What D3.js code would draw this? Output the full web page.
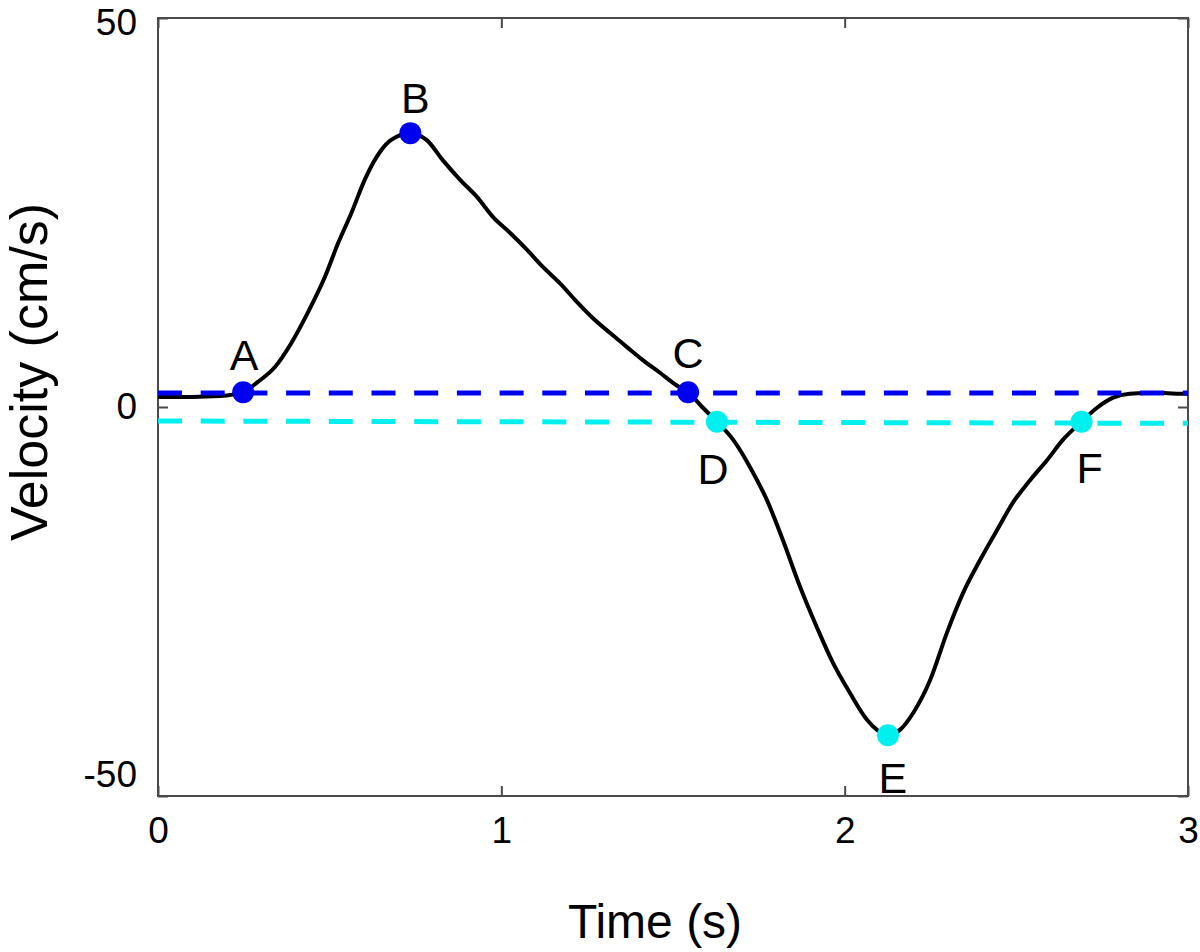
<!DOCTYPE html>
<html>
<head>
<meta charset="utf-8">
<script src="https://cdn.jsdelivr.net/npm/d3@7"></script>
<style>
  body { margin: 0; background: #fff; }
  text { font-family: "Liberation Sans", Arial, sans-serif; fill: #000; }
</style>
</head>
<body>
<svg id="chart" width="1200" height="952"></svg>
<script>
// velocity trace
const timeS = [0, 0.1, 0.18, 0.248, 0.29, 0.34, 0.388, 0.436, 0.486, 0.525, 0.563, 0.602, 0.65, 0.678,
  0.735, 0.783, 0.83, 0.88, 0.929, 0.976, 1.025, 1.075, 1.121, 1.171, 1.22, 1.267, 1.317, 1.366,
  1.413, 1.462, 1.51, 1.544, 1.585, 1.628, 1.675, 1.724, 1.774, 1.82, 1.87, 1.919, 1.966, 2.016,
  2.065, 2.094, 2.126, 2.161, 2.2, 2.249, 2.298, 2.345, 2.394, 2.444, 2.49, 2.54, 2.59, 2.636,
  2.69, 2.735, 2.782, 2.83, 2.88, 2.93, 2.977, 3.0]
const velocity = [1.3, 1.3, 1.4, 1.9, 3.2, 5.1, 8.2, 12.1, 16.7, 21.1, 24.9, 29.2, 33.0, 34.3,
  35.2, 34.3, 31.7, 29.2, 27.0, 24.4, 22.4, 20.2, 18.0, 15.9, 13.5, 11.4, 9.5, 7.7,
  6.0, 4.4, 2.8, 1.9, 0.0, -1.9, -4.2, -7.7, -12.0, -17.1, -23.1, -28.3, -32.9, -36.8,
  -40.2, -41.5, -42.2, -41.5, -39.3, -35.1, -29.0, -23.9, -19.7, -15.8, -12.3, -9.4, -6.8, -4.2,
  -1.9, -0.1, 1.2, 1.7, 1.8, 1.8, 1.7, 1.7]

// threshold lines (time, value at the two ends)
const upperThreshold = [[0, 1.8], [3, 1.8]]
const lowerThreshold = [[0, -1.8], [3, -2.1]]

// marked events
const eventNames = ["A", "B", "C", "D", "E", "F"]
const eventTimes = [0.248, 0.735, 1.544, 1.628, 2.126, 2.69]
const eventValues = [1.9, 35.2, 1.9, -1.9, -42.2, -1.9]
const eventGroup = ["upper", "upper", "upper", "lower", "lower", "lower"]

const xTicks = [0, 1, 2, 3]
const yTicks = [-50, 0, 50]

const colors = { upper: "#0000f0", lower: "#00f0f0" }
// label placement relative to marker: [dx, baseline dy]
const labelOffsets = [[1, -22], [5, -20], [0, -24], [-4, 62], [5, 58], [8, 61]]

const svg = d3.select("#chart")
const plotLeft = 158, plotRight = 1188, plotTop = 18, plotBottom = 796

const x = d3.scaleLinear().domain([0, 3]).range([plotLeft, plotRight])
const y = d3.scaleLinear().domain([-50, 50]).range([plotBottom, plotTop])

const axisColor = "#4a4a4a"
const plainNumber = d => String(d)   // hyphen minus, like the original

// frame
svg.append("rect")
    .attr("x", plotLeft).attr("y", plotTop)
    .attr("width", plotRight - plotLeft).attr("height", plotBottom - plotTop)
    .attr("fill", "none").attr("stroke", axisColor).attr("stroke-width", 2)

const styleAxis = g => {
    g.select(".domain").remove()
    g.selectAll(".tick line").attr("stroke", axisColor).attr("stroke-width", 2)
    g.selectAll(".tick text").attr("font-size", 37).attr("font-family", "Liberation Sans, Arial, sans-serif")
}

svg.append("g")
    .attr("transform", `translate(0,${plotBottom})`)
    .call(d3.axisBottom(x).tickValues(xTicks).tickFormat(plainNumber).tickSize(-10).tickPadding(21))
    .call(styleAxis)

svg.append("g")
    .attr("transform", `translate(0,${plotTop})`)
    .call(d3.axisTop(x).tickValues(xTicks).tickFormat("").tickSize(-10))
    .call(styleAxis)

const yAxisG = svg.append("g")
    .attr("transform", `translate(${plotLeft},0)`)
    .call(d3.axisLeft(y).tickValues(yTicks).tickFormat(plainNumber).tickSize(-10).tickPadding(21))
    .call(styleAxis)

// the end labels sit slightly inside in the original
yAxisG.selectAll(".tick text")
    .attr("dy", d => d === 50 ? "0.45em" : d === -50 ? "-0.25em" : "0.32em")

svg.append("g")
    .attr("transform", `translate(${plotRight},0)`)
    .call(d3.axisRight(y).tickValues(yTicks).tickFormat("").tickSize(-10))
    .call(styleAxis)

// velocity curve
const line = d3.line()
    .x(d => x(d[0]))
    .y(d => y(d[1]))
    .curve(d3.curveMonotoneX)

const trace = timeS.map((t, i) => [t, velocity[i]])

svg.append("path")
    .datum(trace)
    .attr("d", line)
    .attr("fill", "none")
    .attr("stroke", "#000")
    .attr("stroke-width", 4)
    .attr("stroke-linejoin", "round")

// dashed thresholds
const straight = d3.line().x(d => x(d[0])).y(d => y(d[1]))
svg.append("path")
    .datum(upperThreshold)
    .attr("d", straight)
    .attr("stroke", colors.upper)
    .attr("stroke-width", 5)
    .attr("stroke-dasharray", "24,18.7")
svg.append("path")
    .datum(lowerThreshold)
    .attr("d", straight)
    .attr("stroke", colors.lower)
    .attr("stroke-width", 5)
    .attr("stroke-dasharray", "24,18.7")

// event markers
svg.selectAll("circle.event")
    .data(eventNames)
    .join("circle")
    .attr("class", "event")
    .attr("cx", (d, i) => x(eventTimes[i]))
    .attr("cy", (d, i) => y(eventValues[i]))
    .attr("r", 11)
    .attr("fill", (d, i) => colors[eventGroup[i]])

svg.selectAll("text.event")
    .data(eventNames)
    .join("text")
    .attr("class", "event")
    .attr("x", (d, i) => x(eventTimes[i]) + labelOffsets[i][0])
    .attr("y", (d, i) => y(eventValues[i]) + labelOffsets[i][1])
    .attr("text-anchor", "middle")
    .attr("font-size", 43)
    .text(d => d)

// axis titles
svg.append("text")
    .attr("x", 655)
    .attr("y", 938)
    .attr("text-anchor", "middle")
    .attr("font-size", 48)
    .text("Time (s)")

svg.append("text")
    .attr("transform", "translate(47,372) rotate(-90)")
    .attr("text-anchor", "middle")
    .attr("font-size", 52)
    .text("Velocity (cm/s)")
</script>
</body>
</html>
